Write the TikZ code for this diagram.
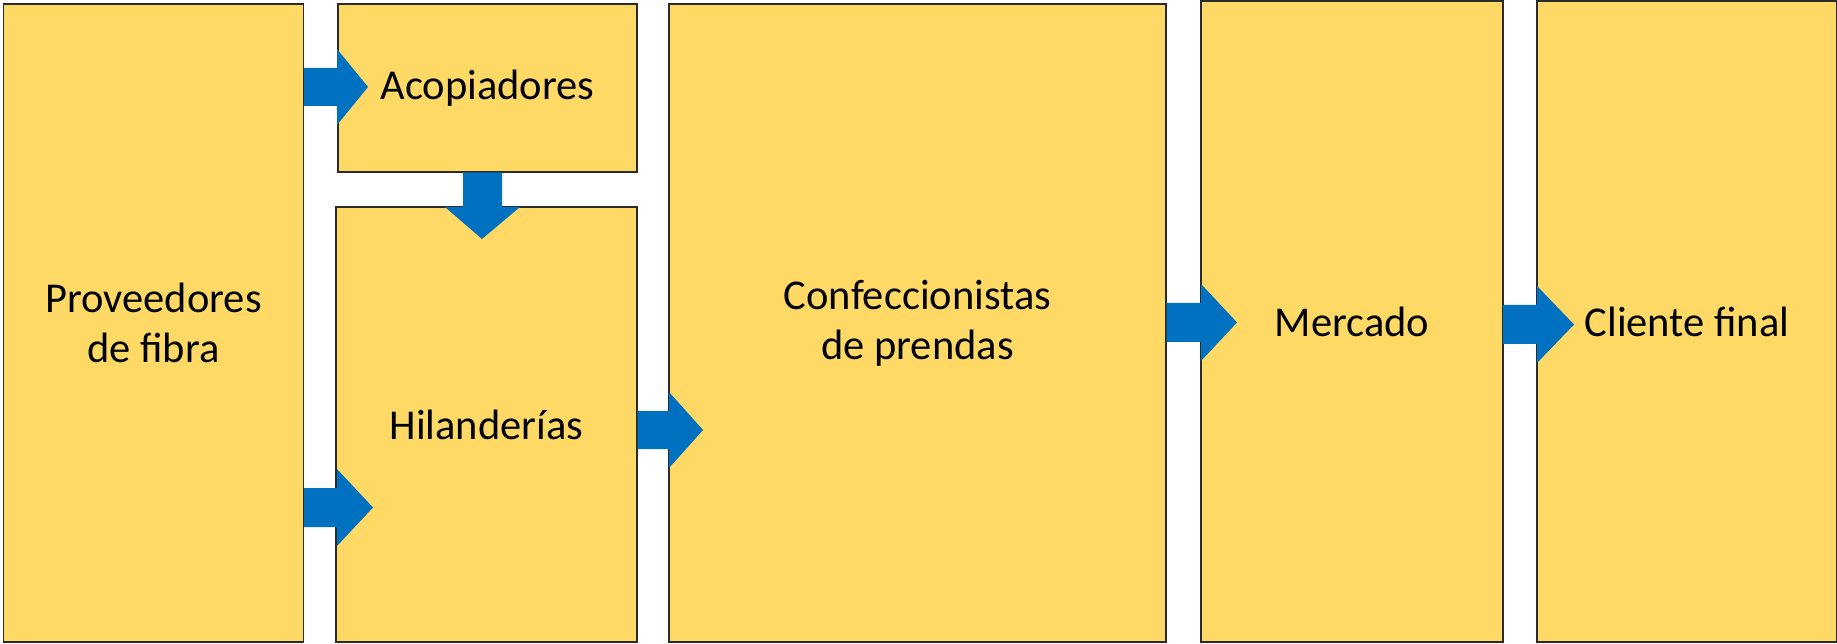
\documentclass[tikz,border=0pt]{standalone}
\usepackage{fontspec}
\setmainfont{Carlito}
\definecolor{boxfill}{HTML}{FED966}
\definecolor{arrowblue}{HTML}{0070C0}
\definecolor{boxline}{HTML}{2B2B2B}
\tikzset{
  stage/.style={draw=boxline, line width=1.3pt, fill=boxfill, inner sep=0pt, align=center,
    font=\fontsize{42.5}{50}\selectfont},
  blockarrow/.style={fill=arrowblue, draw=none}
}
% \barrowR{x0}{x1}{yc}{shaft half}{head half}{tipx}
\newcommand{\barrowR}[6]{\fill[blockarrow] (#1,#3-#4) -- (#2,#3-#4) -- (#2,#3-#5) -- (#6,#3) -- (#2,#3+#5) -- (#2,#3+#4) -- (#1,#3+#4) -- cycle;}
\begin{document}
\begin{tikzpicture}[x=1pt,y=-1pt]
\useasboundingbox (0,0) rectangle (1837,644);
\node[stage, minimum width=300pt, minimum height=638pt] (prov) at (153.5,323) {Proveedores\\de fibra};
\node[stage, minimum width=299pt, minimum height=168pt] (acop) at (487.5,88) {\raisebox{-5pt}{Acopiadores}};
\node[stage, minimum width=301pt, minimum height=435pt] (hil) at (486.5,424.5) {\raisebox{-2pt}{Hilanderías}};
\node[stage, minimum width=497pt, minimum height=638pt] (conf) at (917.5,323) {Confeccionistas\\de prendas};
\node[stage, minimum width=302pt, minimum height=641pt] (merc) at (1352,321.5) {\raisebox{-2pt}{Mercado}};
\node[stage, minimum width=300pt, minimum height=641pt] (cli) at (1687,321.5) {Cliente final};
% arrows
\barrowR{304}{337}{87}{19}{38}{368}
\barrowR{304}{337}{507.5}{19.5}{38.5}{373}
\barrowR{637.5}{669}{430}{19}{38}{703}
\barrowR{1166.5}{1201}{322.5}{19.5}{38.5}{1237}
\barrowR{1503}{1537}{324.5}{19.5}{38.5}{1574}
\fill[blockarrow] (463,172.5) -- (502,172.5) -- (502,207) -- (520,207) -- (482,239) -- (445,207) -- (463,207) -- cycle;
\end{tikzpicture}
\end{document}
